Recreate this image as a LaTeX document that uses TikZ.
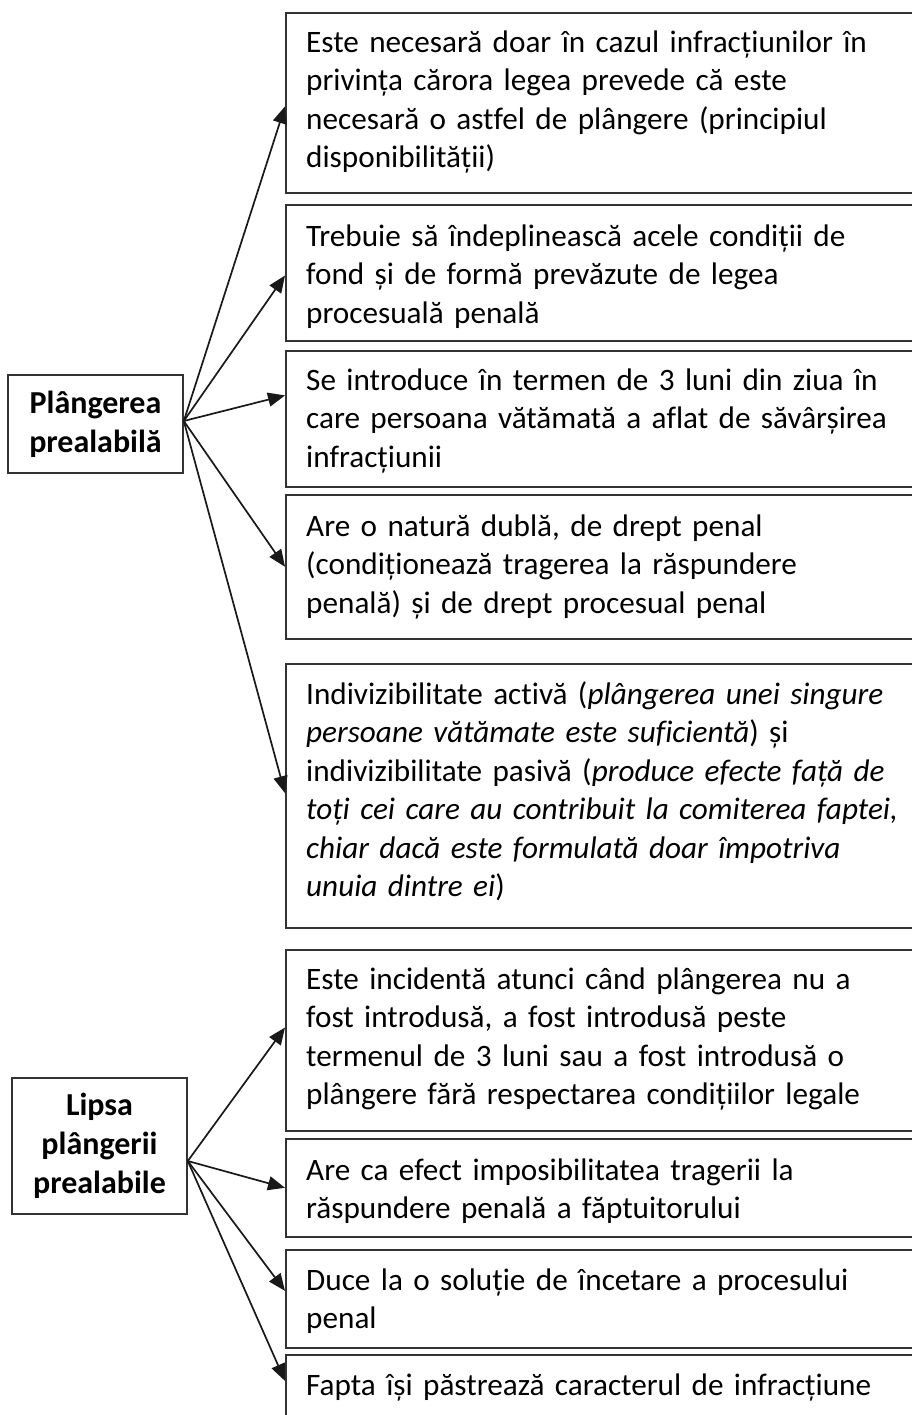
\documentclass[tikz,border=0pt]{standalone}
\usepackage{fontspec}
\setmainfont{Carlito}[Ligatures=NoCommon]
\usetikzlibrary{arrows.meta,calc}
\newcommand\fst{\rule{0pt}{28pt}}
\begin{document}
\begin{tikzpicture}[x=1pt,y=-1pt,
  itembox/.style={draw=black!80, line width=1.6pt, anchor=north west, minimum width=660pt, minimum height=#1, inner sep=0pt},
  txt/.style={anchor=north west, inner sep=0pt, align=left, text width=640pt, font=\fontsize{31.2}{38.5}\selectfont},
  head/.style={draw=black!80, line width=1.6pt, align=center, inner sep=0pt, minimum width=175pt, minimum height=#1, font=\bfseries\fontsize{32}{39}\selectfont},
  arr/.style={line width=1.7pt, black!90, -{Triangle[length=17pt,width=14pt]}}]
\useasboundingbox (0,0) rectangle (912,1415);
\fill[white] (0,0) rectangle (912,1415);
\clip (0,0) rectangle (912,1415);

% right boxes
\node[itembox=180pt] (b1) at (285,12) {};
\node[itembox=136pt] (b2) at (285,204) {};
\node[itembox=136pt] (b3) at (285,350) {};
\node[itembox=144pt] (b4) at (285,494) {};
\node[itembox=264pt] (b5) at (285,663) {};
\node[itembox=181pt] (b6) at (285,949) {};
\node[itembox=98pt] (b7) at (285,1138) {};
\node[itembox=98pt] (b8) at (285,1249) {};
\node[itembox=98pt] (b9) at (285,1354) {};

% texts
\node[txt] (t1) at (306,24) {\fst Este necesară doar în cazul infracțiunilor în\\ privința cărora legea prevede că este\\ necesară o astfel de plângere (principiul\\ disponibilității)};
\node[txt] (t2) at (306,218) {\fst Trebuie să îndeplinească acele condiții de\\ fond și de formă prevăzute de legea\\ procesuală penală};
\node[txt] (t3) at (306,362) {\fst Se introduce în termen de 3 luni din ziua în\\ care persoana vătămată a aflat de săvârșirea\\ infracțiunii};
\node[txt] (t4) at (306,508) {\fst Are o natură dublă, de drept penal\\ (condiționează tragerea la răspundere\\ penală) și de drept procesual penal};
\node[txt] (t5) at (306,676) {\fst Indivizibilitate activă (\textit{plângerea unei singure}\\ \textit{persoane vătămate este suficientă}) și\\ indivizibilitate pasivă (\textit{produce efecte față de}\\ \textit{toți cei care au contribuit la comiterea faptei,}\\ \textit{chiar dacă este formulată doar împotriva}\\ \textit{unuia dintre ei})};
\node[txt] (t6) at (306,961) {\fst Este incidentă atunci când plângerea nu a\\ fost introdusă, a fost introdusă peste\\ termenul de 3 luni sau a fost introdusă o\\ plângere fără respectarea condițiilor legale};
\node[txt] (t7) at (306,1152) {\fst Are ca efect imposibilitatea tragerii la\\ răspundere penală a făptuitorului};
\node[txt] (t8) at (306,1262) {\fst Duce la o soluție de încetare a procesului\\ penal};
\node[txt] (t9) at (306,1367) {\fst Fapta își păstrează caracterul de infracțiune};

% left heads
\node[head=98pt] (pl) at (95.5,424) {Plângerea\\ prealabilă};
\node[head=136pt] (lp) at (99.5,1146) {Lipsa\\ plângerii\\ prealabile};

\coordinate (ps) at ($(pl.east)+(0,-3)$);
\coordinate (ls) at ($(lp.east)+(0,15)$);

\draw[arr] (ps) -- ($(b1.north west)!0.52!(b1.south west)$);
\draw[arr] (ps) -- ($(b2.north west)!0.52!(b2.south west)$);
\draw[arr] (ps) -- ($(b3.north west)!0.33!(b3.south west)$);
\draw[arr] (ps) -- (b4.west);
\draw[arr] (ps) -- ($(b5.north west)!0.49!(b5.south west)$);

\draw[arr] (ls) -- ($(b6.north west)!0.43!(b6.south west)$);
\draw[arr] (ls) -- (b7.west);
\draw[arr] (ls) -- ($(b8.north west)!0.42!(b8.south west)$);
\draw[arr] (ls) -- ($(b9.north west)!0.27!(b9.south west)$);
\end{tikzpicture}
\end{document}
